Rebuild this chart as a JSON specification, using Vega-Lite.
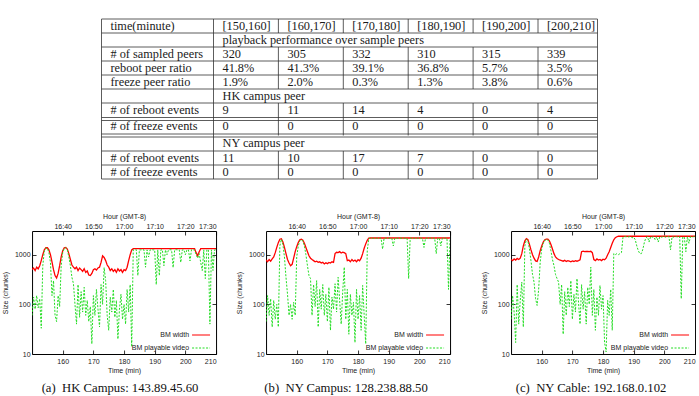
{
  "$schema": "https://vega.github.io/schema/vega-lite/v6.json",
  "padding": {"left": 0, "top": 18, "right": 0, "bottom": 0},
  "center": true,
  "spacing": 32,
  "resolve": {"scale": {"color": "independent"}, "legend": {"color": "independent"}},
  "config": {
    "view": {"stroke": null},
    "axis": {"tickSize": -4, "tickColor": "#000", "tickWidth": 0.8, "domain": false, "grid": false, "labelFont": "Liberation Sans", "titleFont": "Liberation Sans", "labelFontSize": 7, "titleFontSize": 7, "titleFontWeight": "normal", "labelColor": "#222", "titleColor": "#222"}
  },
  "datasets": {
    "hl": [{"b":0,"d":false},{"b":1,"d":false},{"b":2,"d":false},{"b":3,"d":false},{"b":4,"d":false},{"b":5,"d":false},{"b":6,"d":false},{"b":7,"d":true},{"b":8,"d":true},{"b":9,"d":false},{"b":10,"d":false},{"b":11,"d":false}],
    "vl": [{"k":0,"r1":0,"r2":11},{"k":1,"r1":0,"r2":11},{"k":7,"r1":0,"r2":11},
      {"k":2,"r1":0,"r2":1},{"k":3,"r1":0,"r2":1},{"k":4,"r1":0,"r2":1},{"k":5,"r1":0,"r2":1},{"k":6,"r1":0,"r2":1},
      {"k":2,"r1":2,"r2":5},{"k":3,"r1":2,"r2":5},{"k":4,"r1":2,"r2":5},{"k":5,"r1":2,"r2":5},{"k":6,"r1":2,"r2":5},
      {"k":2,"r1":6,"r2":8},{"k":3,"r1":6,"r2":8},{"k":4,"r1":6,"r2":8},{"k":5,"r1":6,"r2":8},{"k":6,"r1":6,"r2":8},
      {"k":2,"r1":9,"r2":11},{"k":3,"r1":9,"r2":11},{"k":4,"r1":9,"r2":11},{"k":5,"r1":9,"r2":11},{"k":6,"r1":9,"r2":11}],
    "cells": [
      {"r":0,"c":0,"s":"time(minute)"},{"r":0,"c":1,"s":"[150,160]"},{"r":0,"c":2,"s":"[160,170]"},{"r":0,"c":3,"s":"[170,180]"},{"r":0,"c":4,"s":"[180,190]"},{"r":0,"c":5,"s":"[190,200]"},{"r":0,"c":6,"s":"[200,210]"},
      {"r":1,"c":1,"s":"playback performance over sample peers"},
      {"r":2,"c":0,"s":"# of sampled peers"},{"r":2,"c":1,"s":"320"},{"r":2,"c":2,"s":"305"},{"r":2,"c":3,"s":"332"},{"r":2,"c":4,"s":"310"},{"r":2,"c":5,"s":"315"},{"r":2,"c":6,"s":"339"},
      {"r":3,"c":0,"s":"reboot peer ratio"},{"r":3,"c":1,"s":"41.8%"},{"r":3,"c":2,"s":"41.3%"},{"r":3,"c":3,"s":"39.1%"},{"r":3,"c":4,"s":"36.8%"},{"r":3,"c":5,"s":"5.7%"},{"r":3,"c":6,"s":"3.5%"},
      {"r":4,"c":0,"s":"freeze peer ratio"},{"r":4,"c":1,"s":"1.9%"},{"r":4,"c":2,"s":"2.0%"},{"r":4,"c":3,"s":"0.3%"},{"r":4,"c":4,"s":"1.3%"},{"r":4,"c":5,"s":"3.8%"},{"r":4,"c":6,"s":"0.6%"},
      {"r":5,"c":1,"s":"HK campus peer"},
      {"r":6,"c":0,"s":"# of reboot events"},{"r":6,"c":1,"s":"9"},{"r":6,"c":2,"s":"11"},{"r":6,"c":3,"s":"14"},{"r":6,"c":4,"s":"4"},{"r":6,"c":5,"s":"0"},{"r":6,"c":6,"s":"4"},
      {"r":7,"c":0,"s":"# of freeze events"},{"r":7,"c":1,"s":"0"},{"r":7,"c":2,"s":"0"},{"r":7,"c":3,"s":"0"},{"r":7,"c":4,"s":"0"},{"r":7,"c":5,"s":"0"},{"r":7,"c":6,"s":"0"},
      {"r":8,"c":1,"s":"NY campus peer"},
      {"r":9,"c":0,"s":"# of reboot events"},{"r":9,"c":1,"s":"11"},{"r":9,"c":2,"s":"10"},{"r":9,"c":3,"s":"17"},{"r":9,"c":4,"s":"7"},{"r":9,"c":5,"s":"0"},{"r":9,"c":6,"s":"0"},
      {"r":10,"c":0,"s":"# of freeze events"},{"r":10,"c":1,"s":"0"},{"r":10,"c":2,"s":"0"},{"r":10,"c":3,"s":"0"},{"r":10,"c":4,"s":"0"},{"r":10,"c":5,"s":"0"},{"r":10,"c":6,"s":"0"}
    ],
    "ts": [
      {"g":"a","t":150,"w":500,"p":60},{"g":"a","t":150.5,"w":540,"p":140},{"g":"a","t":151,"w":480,"p":80},{"g":"a","t":151.5,"w":560,"p":150},{"g":"a","t":152,"w":520,"p":85},{"g":"a","t":152.5,"w":600,"p":130},{"g":"a","t":153,"w":760,"p":33},{"g":"a","t":153.5,"w":1000,"p":600},{"g":"a","t":154,"w":1250,"p":1200},{"g":"a","t":154.5,"w":1380,"p":1350},
      {"g":"a","t":155,"w":1380,"p":1350},{"g":"a","t":155.5,"w":1250,"p":1100},{"g":"a","t":156,"w":1000,"p":700},{"g":"a","t":156.5,"w":720,"p":150},{"g":"a","t":157,"w":500,"p":300},{"g":"a","t":157.5,"w":380,"p":60},{"g":"a","t":158,"w":340,"p":45},{"g":"a","t":158.5,"w":420,"p":150},{"g":"a","t":159,"w":600,"p":90},{"g":"a","t":159.5,"w":900,"p":600},
      {"g":"a","t":160,"w":1200,"p":1100},{"g":"a","t":160.5,"w":1380,"p":1350},{"g":"a","t":161,"w":1400,"p":1380},{"g":"a","t":161.5,"w":1300,"p":1250},{"g":"a","t":162,"w":1050,"p":900},{"g":"a","t":162.5,"w":800,"p":600},{"g":"a","t":163,"w":620,"p":350},{"g":"a","t":163.5,"w":560,"p":260},{"g":"a","t":164,"w":520,"p":100},{"g":"a","t":164.5,"w":560,"p":40},
      {"g":"a","t":165,"w":480,"p":250},{"g":"a","t":165.5,"w":540,"p":55},{"g":"a","t":166,"w":500,"p":180},{"g":"a","t":166.5,"w":460,"p":70},{"g":"a","t":167,"w":520,"p":220},{"g":"a","t":167.5,"w":440,"p":60},{"g":"a","t":168,"w":470,"p":120},{"g":"a","t":168.5,"w":390,"p":45},{"g":"a","t":169,"w":380,"p":90},{"g":"a","t":169.5,"w":420,"p":16},
      {"g":"a","t":170,"w":500,"p":150},{"g":"a","t":170.5,"w":520,"p":60},{"g":"a","t":171,"w":490,"p":200},{"g":"a","t":171.5,"w":540,"p":80},{"g":"a","t":172,"w":560,"p":35},{"g":"a","t":172.5,"w":700,"p":250},{"g":"a","t":173,"w":950,"p":100},{"g":"a","t":173.5,"w":880,"p":550},{"g":"a","t":174,"w":760,"p":300},{"g":"a","t":174.5,"w":620,"p":60},
      {"g":"a","t":175,"w":560,"p":30},{"g":"a","t":175.5,"w":480,"p":140},{"g":"a","t":176,"w":520,"p":70},{"g":"a","t":176.5,"w":460,"p":200},{"g":"a","t":177,"w":500,"p":55},{"g":"a","t":177.5,"w":440,"p":120},{"g":"a","t":178,"w":520,"p":20},{"g":"a","t":178.5,"w":470,"p":80},{"g":"a","t":179,"w":500,"p":160},{"g":"a","t":179.5,"w":440,"p":50},
      {"g":"a","t":180,"w":500,"p":100},{"g":"a","t":180.5,"w":480,"p":40},{"g":"a","t":181,"w":560,"p":200},{"g":"a","t":181.5,"w":760,"p":70},{"g":"a","t":182,"w":1000,"p":250},{"g":"a","t":182.5,"w":1250,"p":14},{"g":"a","t":183,"w":1320,"p":1250},{"g":"a","t":183.5,"w":1320,"p":1250},{"g":"a","t":184,"w":1330,"p":1260},{"g":"a","t":184.5,"w":1320,"p":380},
      {"g":"a","t":185,"w":1320,"p":1250},{"g":"a","t":185.5,"w":1330,"p":1250},{"g":"a","t":186,"w":1320,"p":1260},{"g":"a","t":186.5,"w":1320,"p":1250},{"g":"a","t":187,"w":1320,"p":560},{"g":"a","t":187.5,"w":1330,"p":1250},{"g":"a","t":188,"w":1320,"p":900},{"g":"a","t":188.5,"w":1320,"p":1250},{"g":"a","t":189,"w":1330,"p":1260},{"g":"a","t":189.5,"w":1320,"p":1250},
      {"g":"a","t":190,"w":1320,"p":1250},{"g":"a","t":190.5,"w":1320,"p":250},{"g":"a","t":191,"w":1330,"p":1250},{"g":"a","t":191.5,"w":1320,"p":380},{"g":"a","t":192,"w":1320,"p":1250},{"g":"a","t":192.5,"w":1330,"p":1260},{"g":"a","t":193,"w":1320,"p":600},{"g":"a","t":193.5,"w":1320,"p":1250},{"g":"a","t":194,"w":1320,"p":1000},{"g":"a","t":194.5,"w":1330,"p":1250},
      {"g":"a","t":195,"w":1320,"p":1260},{"g":"a","t":195.5,"w":1320,"p":1250},{"g":"a","t":196,"w":1320,"p":550},{"g":"a","t":196.5,"w":1330,"p":1250},{"g":"a","t":197,"w":1320,"p":1260},{"g":"a","t":197.5,"w":1320,"p":1250},{"g":"a","t":198,"w":1320,"p":1250},{"g":"a","t":198.5,"w":1330,"p":700},{"g":"a","t":199,"w":1320,"p":1250},{"g":"a","t":199.5,"w":1320,"p":1260},
      {"g":"a","t":200,"w":1320,"p":1000},{"g":"a","t":200.5,"w":1330,"p":1250},{"g":"a","t":201,"w":1320,"p":1250},{"g":"a","t":201.5,"w":1320,"p":750},{"g":"a","t":202,"w":1330,"p":1260},{"g":"a","t":202.5,"w":1320,"p":1250},{"g":"a","t":203,"w":1320,"p":1250},{"g":"a","t":203.5,"w":1100,"p":1000},{"g":"a","t":204,"w":950,"p":850},{"g":"a","t":204.5,"w":1150,"p":1050},
      {"g":"a","t":205,"w":1320,"p":700},{"g":"a","t":205.5,"w":1320,"p":480},{"g":"a","t":206,"w":1330,"p":1250},{"g":"a","t":206.5,"w":1320,"p":330},{"g":"a","t":207,"w":1320,"p":1250},{"g":"a","t":207.5,"w":1330,"p":1260},{"g":"a","t":208,"w":1320,"p":40},{"g":"a","t":208.5,"w":1320,"p":1250},{"g":"a","t":209,"w":1330,"p":480},{"g":"a","t":209.5,"w":1320,"p":1250},{"g":"a","t":210,"w":1320,"p":1250},

      {"g":"b","t":150,"w":780,"p":45},{"g":"b","t":150.5,"w":720,"p":150},{"g":"b","t":151,"w":800,"p":60},{"g":"b","t":151.5,"w":740,"p":130},{"g":"b","t":152,"w":820,"p":35},{"g":"b","t":152.5,"w":900,"p":120},{"g":"b","t":153,"w":1100,"p":50},{"g":"b","t":153.5,"w":1400,"p":100},{"g":"b","t":154,"w":1750,"p":35},{"g":"b","t":154.5,"w":2050,"p":1500},
      {"g":"b","t":155,"w":2100,"p":2050},{"g":"b","t":155.5,"w":1800,"p":1600},{"g":"b","t":156,"w":1400,"p":900},{"g":"b","t":156.5,"w":1050,"p":350},{"g":"b","t":157,"w":800,"p":160},{"g":"b","t":157.5,"w":680,"p":60},{"g":"b","t":158,"w":600,"p":100},{"g":"b","t":158.5,"w":640,"p":50},{"g":"b","t":159,"w":850,"p":110},{"g":"b","t":159.5,"w":1150,"p":60},
      {"g":"b","t":160,"w":1450,"p":900},{"g":"b","t":160.5,"w":1750,"p":1500},{"g":"b","t":161,"w":2000,"p":1900},{"g":"b","t":161.5,"w":2050,"p":2000},{"g":"b","t":162,"w":1950,"p":1900},{"g":"b","t":162.5,"w":1700,"p":1500},{"g":"b","t":163,"w":1400,"p":1000},{"g":"b","t":163.5,"w":1150,"p":600},{"g":"b","t":164,"w":950,"p":380},{"g":"b","t":164.5,"w":850,"p":330},
      {"g":"b","t":165,"w":800,"p":60},{"g":"b","t":165.5,"w":760,"p":250},{"g":"b","t":166,"w":720,"p":90},{"g":"b","t":166.5,"w":740,"p":300},{"g":"b","t":167,"w":700,"p":35},{"g":"b","t":167.5,"w":720,"p":200},{"g":"b","t":168,"w":680,"p":80},{"g":"b","t":168.5,"w":700,"p":250},{"g":"b","t":169,"w":650,"p":60},{"g":"b","t":169.5,"w":690,"p":160},
      {"g":"b","t":170,"w":660,"p":45},{"g":"b","t":170.5,"w":700,"p":220},{"g":"b","t":171,"w":680,"p":30},{"g":"b","t":171.5,"w":720,"p":140},{"g":"b","t":172,"w":700,"p":80},{"g":"b","t":172.5,"w":1050,"p":260},{"g":"b","t":173,"w":1120,"p":70},{"g":"b","t":173.5,"w":1100,"p":350},{"g":"b","t":174,"w":1150,"p":120},{"g":"b","t":174.5,"w":1080,"p":40},
      {"g":"b","t":175,"w":1120,"p":180},{"g":"b","t":175.5,"w":1100,"p":560},{"g":"b","t":176,"w":1050,"p":50},{"g":"b","t":176.5,"w":760,"p":200},{"g":"b","t":177,"w":780,"p":25},{"g":"b","t":177.5,"w":720,"p":160},{"g":"b","t":178,"w":800,"p":60},{"g":"b","t":178.5,"w":740,"p":110},{"g":"b","t":179,"w":780,"p":17},{"g":"b","t":179.5,"w":720,"p":200},
      {"g":"b","t":180,"w":790,"p":50},{"g":"b","t":180.5,"w":750,"p":150},{"g":"b","t":181,"w":850,"p":30},{"g":"b","t":181.5,"w":1050,"p":240},{"g":"b","t":182,"w":1350,"p":60},{"g":"b","t":182.5,"w":1650,"p":16},{"g":"b","t":183,"w":1950,"p":1200},{"g":"b","t":183.5,"w":2150,"p":2100},{"g":"b","t":184,"w":2170,"p":2150},{"g":"b","t":184.5,"w":2180,"p":2150},
      {"g":"b","t":185,"w":2170,"p":2140},{"g":"b","t":185.5,"w":2170,"p":2150},{"g":"b","t":186,"w":2180,"p":2150},{"g":"b","t":186.5,"w":2170,"p":2150},{"g":"b","t":187,"w":2170,"p":2140},{"g":"b","t":187.5,"w":2180,"p":2150},{"g":"b","t":188,"w":2170,"p":1300},{"g":"b","t":188.5,"w":2170,"p":2150},{"g":"b","t":189,"w":2180,"p":2150},{"g":"b","t":189.5,"w":2170,"p":2150},
      {"g":"b","t":190,"w":2170,"p":2140},{"g":"b","t":190.5,"w":2180,"p":2150},{"g":"b","t":191,"w":2170,"p":2150},{"g":"b","t":191.5,"w":2170,"p":1500},{"g":"b","t":192,"w":2180,"p":2150},{"g":"b","t":192.5,"w":2170,"p":2150},{"g":"b","t":193,"w":2170,"p":2140},{"g":"b","t":193.5,"w":2180,"p":2150},{"g":"b","t":194,"w":2170,"p":2150},{"g":"b","t":194.5,"w":2170,"p":2150},
      {"g":"b","t":195,"w":2180,"p":2150},{"g":"b","t":195.5,"w":2170,"p":2140},{"g":"b","t":196,"w":2170,"p":2150},{"g":"b","t":196.5,"w":2180,"p":330},{"g":"b","t":197,"w":2170,"p":2150},{"g":"b","t":197.5,"w":2170,"p":2150},{"g":"b","t":198,"w":2180,"p":2150},{"g":"b","t":198.5,"w":2170,"p":2140},{"g":"b","t":199,"w":2170,"p":2150},{"g":"b","t":199.5,"w":2180,"p":2150},
      {"g":"b","t":200,"w":2170,"p":2150},{"g":"b","t":200.5,"w":2170,"p":2150},{"g":"b","t":201,"w":2180,"p":2140},{"g":"b","t":201.5,"w":2170,"p":1400},{"g":"b","t":202,"w":2170,"p":2150},{"g":"b","t":202.5,"w":2180,"p":2150},{"g":"b","t":203,"w":2170,"p":2150},{"g":"b","t":203.5,"w":2170,"p":2140},{"g":"b","t":204,"w":2180,"p":2150},{"g":"b","t":204.5,"w":2170,"p":2150},
      {"g":"b","t":205,"w":2170,"p":2150},{"g":"b","t":205.5,"w":2180,"p":1050},{"g":"b","t":206,"w":2170,"p":2150},{"g":"b","t":206.5,"w":2170,"p":2150},{"g":"b","t":207,"w":2180,"p":1500},{"g":"b","t":207.5,"w":2170,"p":2150},{"g":"b","t":208,"w":2170,"p":2140},{"g":"b","t":208.5,"w":2180,"p":2150},{"g":"b","t":209,"w":2170,"p":2150},{"g":"b","t":209.5,"w":2170,"p":200},{"g":"b","t":210,"w":2180,"p":2150},

      {"g":"c","t":150,"w":800,"p":50},{"g":"c","t":150.5,"w":760,"p":150},{"g":"c","t":151,"w":820,"p":70},{"g":"c","t":151.5,"w":780,"p":17},{"g":"c","t":152,"w":840,"p":250},{"g":"c","t":152.5,"w":800,"p":40},{"g":"c","t":153,"w":850,"p":120},{"g":"c","t":153.5,"w":1050,"p":280},{"g":"c","t":154,"w":1500,"p":35},{"g":"c","t":154.5,"w":1900,"p":1500},
      {"g":"c","t":155,"w":2100,"p":2050},{"g":"c","t":155.5,"w":2000,"p":1900},{"g":"c","t":156,"w":1600,"p":1300},{"g":"c","t":156.5,"w":1250,"p":750},{"g":"c","t":157,"w":1000,"p":400},{"g":"c","t":157.5,"w":850,"p":280},{"g":"c","t":158,"w":750,"p":130},{"g":"c","t":158.5,"w":730,"p":95},{"g":"c","t":159,"w":900,"p":200},{"g":"c","t":159.5,"w":1200,"p":700},
      {"g":"c","t":160,"w":1500,"p":1300},{"g":"c","t":160.5,"w":1800,"p":1700},{"g":"c","t":161,"w":2000,"p":1950},{"g":"c","t":161.5,"w":2050,"p":2000},{"g":"c","t":162,"w":2050,"p":2000},{"g":"c","t":162.5,"w":1900,"p":1700},{"g":"c","t":163,"w":1600,"p":1200},{"g":"c","t":163.5,"w":1300,"p":800},{"g":"c","t":164,"w":1050,"p":600},{"g":"c","t":164.5,"w":900,"p":400},
      {"g":"c","t":165,"w":840,"p":330},{"g":"c","t":165.5,"w":800,"p":280},{"g":"c","t":166,"w":780,"p":100},{"g":"c","t":166.5,"w":760,"p":250},{"g":"c","t":167,"w":740,"p":25},{"g":"c","t":167.5,"w":770,"p":180},{"g":"c","t":168,"w":730,"p":60},{"g":"c","t":168.5,"w":760,"p":220},{"g":"c","t":169,"w":740,"p":90},{"g":"c","t":169.5,"w":720,"p":300},
      {"g":"c","t":170,"w":750,"p":50},{"g":"c","t":170.5,"w":730,"p":160},{"g":"c","t":171,"w":760,"p":70},{"g":"c","t":171.5,"w":740,"p":330},{"g":"c","t":172,"w":760,"p":110},{"g":"c","t":172.5,"w":790,"p":40},{"g":"c","t":173,"w":1150,"p":250},{"g":"c","t":173.5,"w":1180,"p":80},{"g":"c","t":174,"w":1150,"p":180},{"g":"c","t":174.5,"w":1170,"p":40},
      {"g":"c","t":175,"w":1160,"p":220},{"g":"c","t":175.5,"w":1150,"p":100},{"g":"c","t":176,"w":1170,"p":560},{"g":"c","t":176.5,"w":1100,"p":60},{"g":"c","t":177,"w":800,"p":200},{"g":"c","t":177.5,"w":760,"p":30},{"g":"c","t":178,"w":820,"p":140},{"g":"c","t":178.5,"w":780,"p":60},{"g":"c","t":179,"w":800,"p":240},{"g":"c","t":179.5,"w":760,"p":80},
      {"g":"c","t":180,"w":810,"p":150},{"g":"c","t":180.5,"w":790,"p":17},{"g":"c","t":181,"w":850,"p":11},{"g":"c","t":181.5,"w":1000,"p":120},{"g":"c","t":182,"w":1150,"p":60},{"g":"c","t":182.5,"w":1400,"p":200},{"g":"c","t":183,"w":1700,"p":30},{"g":"c","t":183.5,"w":2000,"p":1050},{"g":"c","t":184,"w":2200,"p":1000},{"g":"c","t":184.5,"w":2300,"p":1050},
      {"g":"c","t":185,"w":2350,"p":1000},{"g":"c","t":185.5,"w":2350,"p":1050},{"g":"c","t":186,"w":2350,"p":1100},{"g":"c","t":186.5,"w":2350,"p":2250},{"g":"c","t":187,"w":2350,"p":2300},{"g":"c","t":187.5,"w":2360,"p":2300},{"g":"c","t":188,"w":2350,"p":2250},{"g":"c","t":188.5,"w":2350,"p":2300},{"g":"c","t":189,"w":2360,"p":2300},{"g":"c","t":189.5,"w":2350,"p":2200},
      {"g":"c","t":190,"w":2350,"p":2250},{"g":"c","t":190.5,"w":2350,"p":2000},{"g":"c","t":191,"w":2360,"p":1500},{"g":"c","t":191.5,"w":2350,"p":1200},{"g":"c","t":192,"w":2350,"p":1050},{"g":"c","t":192.5,"w":2360,"p":1050},{"g":"c","t":193,"w":2350,"p":1300},{"g":"c","t":193.5,"w":2350,"p":1800},{"g":"c","t":194,"w":2360,"p":2200},{"g":"c","t":194.5,"w":2350,"p":2300},
      {"g":"c","t":195,"w":2350,"p":1800},{"g":"c","t":195.5,"w":2360,"p":2300},{"g":"c","t":196,"w":2350,"p":2250},{"g":"c","t":196.5,"w":2350,"p":2300},{"g":"c","t":197,"w":2360,"p":2000},{"g":"c","t":197.5,"w":2350,"p":2300},{"g":"c","t":198,"w":2350,"p":1800},{"g":"c","t":198.5,"w":2360,"p":2300},{"g":"c","t":199,"w":2350,"p":2250},{"g":"c","t":199.5,"w":2350,"p":2300},
      {"g":"c","t":200,"w":2360,"p":2300},{"g":"c","t":200.5,"w":2350,"p":2250},{"g":"c","t":201,"w":2350,"p":2300},{"g":"c","t":201.5,"w":2360,"p":2300},{"g":"c","t":202,"w":2350,"p":1250},{"g":"c","t":202.5,"w":2350,"p":2300},{"g":"c","t":203,"w":2360,"p":2250},{"g":"c","t":203.5,"w":2350,"p":2300},{"g":"c","t":204,"w":2350,"p":2300},{"g":"c","t":204.5,"w":2360,"p":2250},
      {"g":"c","t":205,"w":2350,"p":2300},{"g":"c","t":205.5,"w":2350,"p":130},{"g":"c","t":206,"w":2360,"p":2300},{"g":"c","t":206.5,"w":2350,"p":2250},{"g":"c","t":207,"w":2350,"p":1150},{"g":"c","t":207.5,"w":2360,"p":2300},{"g":"c","t":208,"w":2350,"p":1700},{"g":"c","t":208.5,"w":2350,"p":2300},{"g":"c","t":209,"w":2360,"p":2250},{"g":"c","t":209.5,"w":2350,"p":2300},{"g":"c","t":210,"w":2350,"p":2300}
    ]
  },
  "vconcat": [
    {
      "width": 525,
      "height": 160,
      "layer": [
        {
          "data": {"name": "hl"},
          "transform": [{"filter": "!datum.d"}],
          "mark": {"type": "rule", "stroke": "#333", "strokeWidth": 0.8},
          "encoding": {
            "y": {"field": "b", "type": "quantitative", "scale": {"domain": [0, 6, 7, 8, 9, 11], "range": [0, 84, 100, 116.5, 132, 160]}, "axis": null},
            "x": {"datum": 0, "type": "quantitative", "scale": {"domain": [0, 1, 6, 7], "range": [0, 112, 436.5, 496]}, "axis": null},
            "x2": {"datum": 7}
          }
        },
        {
          "data": {"name": "hl"},
          "transform": [{"filter": "datum.d"}],
          "mark": {"type": "rule", "stroke": "#333", "strokeWidth": 0.8, "yOffset": -1.5},
          "encoding": {
            "y": {"field": "b", "type": "quantitative"},
            "x": {"datum": 0, "type": "quantitative"},
            "x2": {"datum": 7}
          }
        },
        {
          "data": {"name": "hl"},
          "transform": [{"filter": "datum.d"}],
          "mark": {"type": "rule", "stroke": "#333", "strokeWidth": 0.8, "yOffset": 1.5},
          "encoding": {
            "y": {"field": "b", "type": "quantitative"},
            "x": {"datum": 0, "type": "quantitative"},
            "x2": {"datum": 7}
          }
        },
        {
          "data": {"name": "vl"},
          "mark": {"type": "rule", "stroke": "#333", "strokeWidth": 0.8},
          "encoding": {
            "x": {"field": "k", "type": "quantitative"},
            "y": {"field": "r1", "type": "quantitative"},
            "y2": {"field": "r2"}
          }
        },
        {
          "data": {"name": "cells"},
          "mark": {"type": "text", "align": "left", "baseline": "middle", "dx": 9, "dy": 7, "font": "Liberation Serif", "fontSize": 12.3, "color": "#1a1a1a"},
          "encoding": {
            "x": {"field": "c", "type": "quantitative"},
            "y": {"field": "r", "type": "quantitative"},
            "text": {"field": "s", "type": "nominal"}
          }
        }
      ]
    },
    {
      "spacing": 28,
      "resolve": {"scale": {"color": "independent"}, "legend": {"color": "independent"}},
      "hconcat": [
        {
          "spacing": 17,
          "resolve": {"scale": {"color": "independent"}, "legend": {"color": "independent"}},
          "hconcat": [
            {
              "width": 184, "height": 123,
              "view": {"stroke": "#000", "strokeWidth": 1},
              "title": {"text": "(a)\u2002HK Campus: 143.89.45.60", "orient": "bottom", "font": "Liberation Serif", "fontSize": 12.7, "fontWeight": "normal", "color": "#111", "offset": 8, "dx": -4},
              "data": {"name": "ts"},
              "transform": [{"filter": "datum.g == 'a'"}],
              "layer": [
                {
                  "mark": {"type": "line", "strokeWidth": 1.3, "clip": true},
                  "encoding": {
                    "x": {"field": "t", "type": "quantitative", "scale": {"domain": [150, 210], "nice": false, "zero": false}, "axis": {"orient": "bottom", "values": [160, 170, 180, 190, 200, 210], "title": "Time (min)", "labelPadding": 7.5, "titlePadding": 2}},
                    "y": {"field": "w", "type": "quantitative", "scale": {"type": "log", "domain": [10, 3000], "nice": false}, "axis": {"orient": "left", "values": [10, 100, 1000], "format": "d", "title": "Size (chunks)", "labelPadding": 6, "titlePadding": 6}},
                    "color": {"datum": "BM width", "type": "nominal", "scale": {"domain": ["BM width", "BM playable video"], "range": ["#ff0000", "#22dd22"]},
                      "legend": {"title": null, "orient": "bottom-right", "offset": 3, "symbolType": "stroke", "symbolSize": 324, "symbolStrokeWidth": 1.2, "labelFont": "Liberation Sans", "labelFontSize": 7, "labelColor": "#222", "labelAlign": "right", "labelOffset": -22, "rowPadding": 0, "padding": 0,
                        "encode": {"symbols": {"update": {"strokeDash": {"signal": "datum.value == 'BM playable video' ? [2,1.5] : [1,0]"}}}}}}
                  }
                },
                {
                  "mark": {"type": "line", "strokeWidth": 1, "strokeDash": [2, 1.5], "clip": true},
                  "encoding": {
                    "x": {"field": "t", "type": "quantitative", "axis": {"orient": "top", "values": [160, 170, 180, 190, 200, 210], "title": "Hour (GMT-8)", "labelExpr": "['16:30','16:40','16:50','17:00','17:10','17:20','17:30'][round((datum.value-150)/10)]", "labelPadding": 5.5, "titlePadding": 3}},
                    "y": {"field": "p", "type": "quantitative", "axis": {"orient": "right", "values": [10, 100, 1000], "labels": false, "title": null}},
                    "color": {"datum": "BM playable video", "type": "nominal"}
                  }
                }
              ],
              "resolve": {"axis": {"x": "independent", "y": "independent"}}
            },
            {
              "width": 184, "height": 123,
              "view": {"stroke": "#000", "strokeWidth": 1},
              "title": {"text": "(b)\u2002NY Campus: 128.238.88.50", "orient": "bottom", "font": "Liberation Serif", "fontSize": 12.7, "fontWeight": "normal", "color": "#111", "offset": 8, "dx": -12},
              "data": {"name": "ts"},
              "transform": [{"filter": "datum.g == 'b'"}],
              "layer": [
                {
                  "mark": {"type": "line", "strokeWidth": 1.3, "clip": true},
                  "encoding": {
                    "x": {"field": "t", "type": "quantitative", "scale": {"domain": [150, 210], "nice": false, "zero": false}, "axis": {"orient": "bottom", "values": [160, 170, 180, 190, 200, 210], "title": "Time (min)", "labelPadding": 7.5, "titlePadding": 2}},
                    "y": {"field": "w", "type": "quantitative", "scale": {"type": "log", "domain": [10, 3000], "nice": false}, "axis": {"orient": "left", "values": [10, 100, 1000], "format": "d", "title": "Size (chunks)", "labelPadding": 6, "titlePadding": 6}},
                    "color": {"datum": "BM width", "type": "nominal", "scale": {"domain": ["BM width", "BM playable video"], "range": ["#ff0000", "#22dd22"]},
                      "legend": {"title": null, "orient": "bottom-right", "offset": 3, "symbolType": "stroke", "symbolSize": 324, "symbolStrokeWidth": 1.2, "labelFont": "Liberation Sans", "labelFontSize": 7, "labelColor": "#222", "labelAlign": "right", "labelOffset": -22, "rowPadding": 0, "padding": 0,
                        "encode": {"symbols": {"update": {"strokeDash": {"signal": "datum.value == 'BM playable video' ? [2,1.5] : [1,0]"}}}}}}
                  }
                },
                {
                  "mark": {"type": "line", "strokeWidth": 1, "strokeDash": [2, 1.5], "clip": true},
                  "encoding": {
                    "x": {"field": "t", "type": "quantitative", "axis": {"orient": "top", "values": [160, 170, 180, 190, 200, 210], "title": "Hour (GMT-8)", "labelExpr": "['16:30','16:40','16:50','17:00','17:10','17:20','17:30'][round((datum.value-150)/10)]", "labelPadding": 5.5, "titlePadding": 3}},
                    "y": {"field": "p", "type": "quantitative", "axis": {"orient": "right", "values": [10, 100, 1000], "labels": false, "title": null}},
                    "color": {"datum": "BM playable video", "type": "nominal"}
                  }
                }
              ],
              "resolve": {"axis": {"x": "independent", "y": "independent"}}
            }
          ]
        },
        {
          "width": 184, "height": 123,
          "view": {"stroke": "#000", "strokeWidth": 1},
          "title": {"text": "(c)\u2002NY Cable: 192.168.0.102", "orient": "bottom", "font": "Liberation Serif", "fontSize": 12.7, "fontWeight": "normal", "color": "#111", "offset": 8, "dx": -12},
          "data": {"name": "ts"},
          "transform": [{"filter": "datum.g == 'c'"}],
          "layer": [
            {
              "mark": {"type": "line", "strokeWidth": 1.3, "clip": true},
              "encoding": {
                "x": {"field": "t", "type": "quantitative", "scale": {"domain": [150, 210], "nice": false, "zero": false}, "axis": {"orient": "bottom", "values": [160, 170, 180, 190, 200, 210], "title": "Time (min)", "labelPadding": 7.5, "titlePadding": 2}},
                "y": {"field": "w", "type": "quantitative", "scale": {"type": "log", "domain": [10, 3000], "nice": false}, "axis": {"orient": "left", "values": [10, 100, 1000], "format": "d", "title": "Size (chunks)", "labelPadding": 6, "titlePadding": 6}},
                "color": {"datum": "BM width", "type": "nominal", "scale": {"domain": ["BM width", "BM playable video"], "range": ["#ff0000", "#22dd22"]},
                  "legend": {"title": null, "orient": "bottom-right", "offset": 3, "symbolType": "stroke", "symbolSize": 324, "symbolStrokeWidth": 1.2, "labelFont": "Liberation Sans", "labelFontSize": 7, "labelColor": "#222", "labelAlign": "right", "labelOffset": -22, "rowPadding": 0, "padding": 0,
                    "encode": {"symbols": {"update": {"strokeDash": {"signal": "datum.value == 'BM playable video' ? [2,1.5] : [1,0]"}}}}}}
              }
            },
            {
              "mark": {"type": "line", "strokeWidth": 1, "strokeDash": [2, 1.5], "clip": true},
              "encoding": {
                "x": {"field": "t", "type": "quantitative", "axis": {"orient": "top", "values": [160, 170, 180, 190, 200, 210], "title": "Hour (GMT-8)", "labelExpr": "['16:30','16:40','16:50','17:00','17:10','17:20','17:30'][round((datum.value-150)/10)]", "labelPadding": 5.5, "titlePadding": 3}},
                "y": {"field": "p", "type": "quantitative", "axis": {"orient": "right", "values": [10, 100, 1000], "labels": false, "title": null}},
                "color": {"datum": "BM playable video", "type": "nominal"}
              }
            }
          ],
          "resolve": {"axis": {"x": "independent", "y": "independent"}}
        }
      ]
    }
  ]
}
